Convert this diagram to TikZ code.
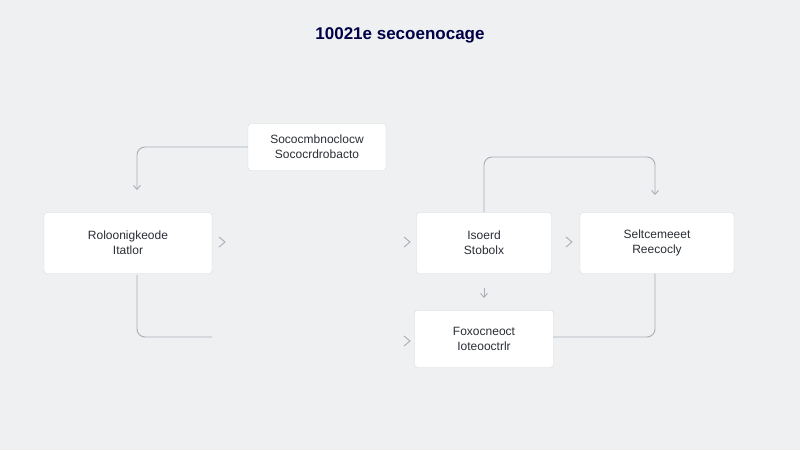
\documentclass[tikz,border=0pt]{standalone}
\usepackage{fontspec}
\setmainfont{Liberation Sans}
\usetikzlibrary{arrows.meta}
\definecolor{bg}{HTML}{EEF0F2}
\definecolor{ln}{HTML}{A9AEB4}
\definecolor{tx}{HTML}{2A2E35}
\tikzset{x=1pt,y=-1pt,
 box/.style={draw=white!85!black,fill=white,rounded corners=3pt,align=center,font=\fontsize{12}{15}\selectfont,text=tx,drop shadow/.try},
 conn/.style={draw=ln,line width=0.9pt,rounded corners=8pt},
 tip/.style={-{Straight Barb[length=4pt,width=7pt]}}}
\begin{document}
\begin{tikzpicture}
\fill[bg] (0,0) rectangle (800,450);
\useasboundingbox (0,0) rectangle (800,450);
\node[font=\bfseries\fontsize{17}{20}\selectfont,text=black!60!blue!70!black] (title) at (400,35) {10021e secoenocage};
\node[box,minimum width=138,minimum height=47] (top) at (317,147) {Sococmbnoclocw\\Sococrdrobacto};
\node[box,minimum width=168,minimum height=61] (left) at (128,243) {Roloonigkeode\\Itatlor};
\node[box,minimum width=135,minimum height=61] (mid) at (484,243) {Isoerd\\Stobolx};
\node[box,minimum width=154,minimum height=61] (right) at (657,243) {Seltcemeeet\\Reecocly};
\node[box,minimum width=139,minimum height=57] (bot) at (484,339) {Foxocneoct\\Ioteooctrlr};
\coordinate (a1) at (137,190);
\draw[conn,tip] (top.west) -| (a1);
\coordinate (b1) at (137,275);
\coordinate (b2) at (212,337);
\draw[conn] (b1) |- (b2);
\coordinate (m1) at (655,195);
\draw[conn,tip] (mid.north) |- (570,157) -| (m1);
\coordinate (m2) at (484,298);
\draw[conn,tip] (mid.south) ++(0,14) -- (m2);
\coordinate (r1) at (553,337);
\draw[conn] (right.south) ++(-2,0) |- (r1);
\foreach \p in {(225,242),(410,242),(572,242),(410,341)}
  \draw[conn,rounded corners=0pt] \p ++(-6,-5) -- ++(6,5) -- ++(-6,5);
\end{tikzpicture}
\end{document}
